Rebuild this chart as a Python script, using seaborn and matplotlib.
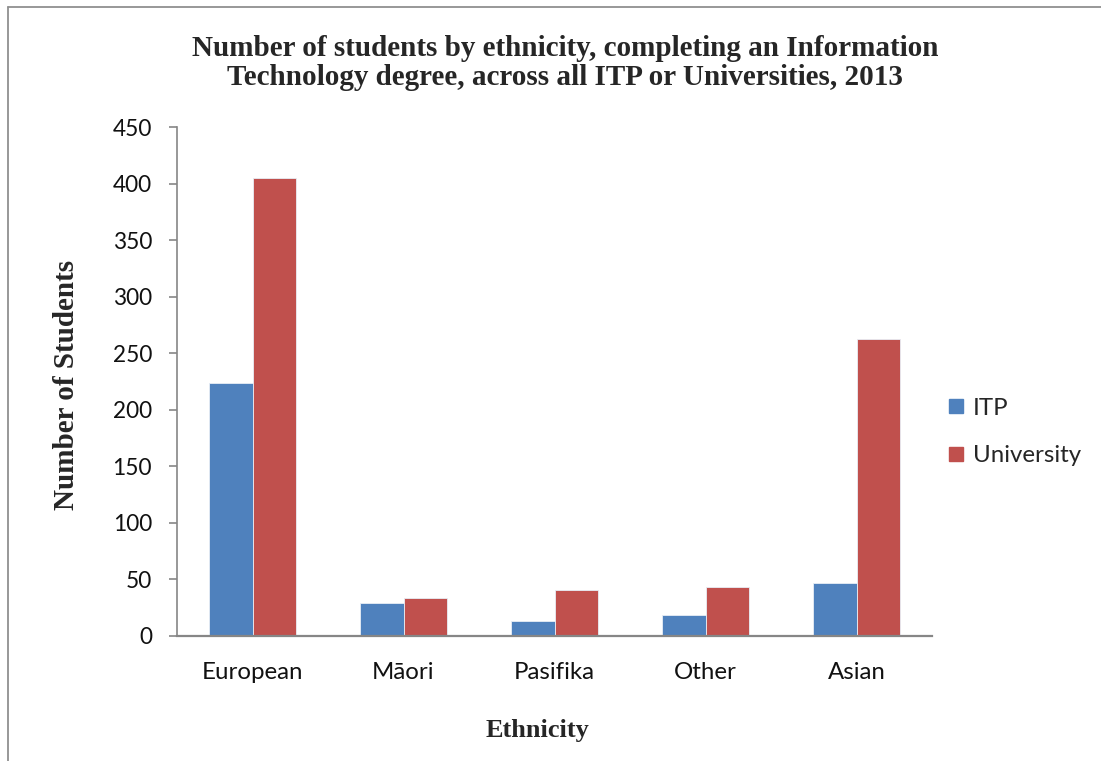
import numpy as np
import pandas as pd
import matplotlib
matplotlib.use("Agg")
import matplotlib.pyplot as plt
from matplotlib.lines import Line2D
import seaborn as sns

# datos
etnias = ["European", "Māori", "Pasifika", "Other", "Asian"]
itp = [224, 29, 13, 19, 47]
universidad = [405, 34, 41, 43, 263]
series = ["ITP", "University"]
colores = ["#4F81BD", "#C0504D"]
yticks = [0, 50, 100, 150, 200, 250, 300, 350, 400, 450]

df = pd.DataFrame({
    "Ethnicity": etnias * 2,
    "Serie": ["ITP"] * len(etnias) + ["University"] * len(etnias),
    "Students": itp + universidad,
})

sns.set_style("white")
plt.rcParams["font.family"] = ["Lato", "DejaVu Sans"]

fig = plt.figure(figsize=(11.01, 7.61), dpi=100)
ax = fig.add_axes([177 / 1101, 1 - 636 / 761, (932 - 177) / 1101, (636 - 127) / 761])

sns.barplot(data=df, x="Ethnicity", y="Students", hue="Serie",
            order=etnias, hue_order=series, palette=colores,
            width=0.57, ax=ax, legend=False,
            edgecolor="#e8eef6", linewidth=0.6, saturation=1)

ax.set_ylim(0, 450)
ax.set_yticks(yticks)
ax.set_xlim(-0.5, len(etnias) - 0.5)

gris = "#868686"
for lado in ["top", "right"]:
    ax.spines[lado].set_visible(False)
ax.spines["left"].set_color(gris)
ax.spines["bottom"].set_color(gris)
ax.spines["left"].set_linewidth(1.2)
ax.spines["bottom"].set_linewidth(1.6)

ax.tick_params(axis="y", length=6, width=1.2, color=gris, pad=12,
               labelsize=16.3, labelcolor="#111111", direction="out", left=True)
ax.tick_params(axis="x", length=0, pad=19, labelsize=17.3, labelcolor="#111111")
ax.set_xlabel("")
ax.set_ylabel("")

serif = "Liberation Serif"
fig.text(565 / 1101, 1 - 63 / 761,
         "Number of students by ethnicity, completing an Information\n"
         "Technology degree, across all ITP or Universities, 2013",
         ha="center", va="center", fontsize=21, fontweight="bold",
         family=serif, linespacing=1.1)
fig.text(67 / 1101, 1 - 385 / 761, "Number of Students", rotation=90,
         ha="center", va="center", fontsize=21, fontweight="bold", family=serif)
fig.text(537 / 1101, 1 - 730 / 761, "Ethnicity",
         ha="center", va="center", fontsize=19, fontweight="bold", family=serif)

# leyenda
handles = [Line2D([0], [0], marker="s", linestyle="", markersize=10,
                  markerfacecolor=c, markeredgecolor=c) for c in colores]
fig.legend(handles, series, loc="center left",
           bbox_to_anchor=(925 / 1101, 1 - 432 / 761), frameon=False,
           fontsize=17.3, handlelength=0.8, handletextpad=0.3, labelspacing=1.1)

# borde del recuadro
fig.add_artist(Line2D([8 / 1101, 8 / 1101], [0, 1 - 7 / 761], color="#909090", lw=1.3))
fig.add_artist(Line2D([8 / 1101, 1], [1 - 7 / 761, 1 - 7 / 761], color="#909090", lw=1.3))

fig.savefig("out.png", dpi=100)
